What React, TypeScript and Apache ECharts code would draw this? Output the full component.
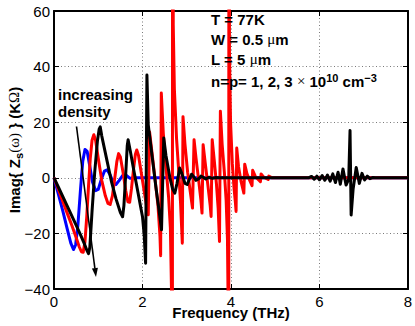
import React, { useEffect, useRef } from "react";
import * as echarts from "echarts";

// ---- data ----
const xTicks = [0, 2, 4, 6, 8];
const yTicks = [-40, -20, 0, 20, 40, 60];

const blueData: [number, number][] = [
  [0, 0], [0.1, -6], [0.2, -12], [0.3, -18.5], [0.38, -23.5], [0.44, -25.8], [0.49, -24],
  [0.54, -17], [0.6, -4], [0.65, 6], [0.7, 10.2], [0.75, 9.5], [0.8, 5], [0.87, -1.5],
  [0.94, -4.6], [1.0, -4.2], [1.07, -0.5], [1.14, 2.4], [1.2, 2.9], [1.27, 1], [1.34, -1.8],
  [1.4, -2.4], [1.47, -1], [1.55, 0.8], [1.63, 0.9], [1.72, -0.2], [1.85, 0], [8, 0],
];

const redData: [number, number][] = [
  [0, 0], [0.1, -4.2], [0.2, -8.5], [0.3, -12.8], [0.4, -17], [0.5, -21.5], [0.57, -24.8],
  [0.62, -26.6], [0.66, -26.8], [0.7, -23], [0.74, -14], [0.78, -3], [0.82, 7], [0.86, 13.5],
  [0.9, 15.5], [0.94, 13.5], [1.0, 7], [1.08, -1], [1.16, -6.5], [1.22, -9.2], [1.27, -9.6],
  [1.32, -6.5], [1.37, -0.5], [1.42, 5.8], [1.46, 8.7], [1.5, 7.5], [1.56, 2], [1.62, -4.5],
  [1.67, -8.6], [1.71, -8.8], [1.75, -4], [1.8, 3.5], [1.84, 8.5], [1.87, 10], [1.91, 8],
  [1.98, 1], [2.05, -6], [2.1, -11], [2.13, -13.3], [2.16, 16.5], [2.2, 11], [2.28, 0],
  [2.35, -10], [2.395, -21], [2.41, -28], [2.425, 30.5], [2.47, 16], [2.53, 4], [2.59, -7],
  [2.63, -18], [2.655, -40], [2.672, -300], [2.682, 300], [2.695, 55], [2.72, 32], [2.77, 14],
  [2.82, 2], [2.86, -9], [2.885, -18], [2.9, -23.5], [2.915, 22], [2.96, 12], [3.02, 2],
  [3.08, -5], [3.13, -10.9], [3.165, 13.7], [3.21, 7], [3.27, -1], [3.32, -8], [3.345, -12.7],
  [3.37, 11.9], [3.42, 5], [3.48, -3], [3.53, -10], [3.55, -13.9], [3.575, 13.7], [3.62, 6.5],
  [3.67, -2], [3.71, -11], [3.74, -22.9], [3.76, 23.9], [3.8, 12], [3.85, 2], [3.89, -8],
  [3.92, -22], [3.935, -45], [3.945, -300], [3.955, 300], [3.965, 45], [3.99, 20], [4.03, 5],
  [4.07, -4], [4.1, -9], [4.115, -12.1], [4.13, 10.7], [4.17, 4], [4.23, -1.5], [4.29, -5.5],
  [4.31, 4.9], [4.36, 1.5], [4.43, -1.2], [4.475, -2.8], [4.49, 2.7], [4.55, 0.5], [4.62, -0.7],
  [4.665, -1.4], [4.68, 1.4], [4.74, 0.2], [4.84, -0.6], [4.855, 0.6], [4.93, 0], [8, 0],
];

const blackData: [number, number][] = [
  [0, 0], [0.1, -3.4], [0.2, -6.8], [0.3, -10.2], [0.4, -13.6], [0.5, -17], [0.6, -20.5],
  [0.68, -23.5], [0.74, -26], [0.78, -27.3], [0.81, -25], [0.86, -12], [0.92, 2], [0.98, 13],
  [1.02, 17.5], [1.045, 18.3], [1.08, 15], [1.2, 6], [1.3, -1.5], [1.4, -7.5], [1.5, -12.5],
  [1.55, -14], [1.58, -10], [1.62, 1], [1.655, 11.5], [1.675, 13.7], [1.72, 10], [1.8, 3],
  [1.9, -5.5], [1.97, -11.5], [2.0, -14], [2.04, -21], [2.07, -30.7], [2.1, 37], [2.13, 19],
  [2.2, 10], [2.3, -3], [2.38, -12.5], [2.43, -18.7], [2.48, 14.3], [2.53, 8], [2.62, 0],
  [2.68, -4], [2.73, -5.5], [2.78, -2], [2.84, 3.5], [2.89, 1.5], [2.96, -2], [3.01, -2.4],
  [3.06, -0.5], [3.11, 1.3], [3.16, 0.3], [3.21, -0.9], [3.27, -0.3], [3.32, 0.6], [3.38, 0.1],
  [3.43, -0.4], [3.5, 0.2], [3.58, -0.2], [3.66, 0.1], [3.75, 0], [5.75, 0], [5.82, 0.5],
  [5.88, -0.5], [5.94, 0.6], [6.0, -0.7], [6.06, 0.8], [6.12, -0.9], [6.18, 1.0], [6.24, -1.2],
  [6.3, 1.4], [6.36, -1.7], [6.42, 2.0], [6.47, -2.3], [6.53, 3.2], [6.6, -2.6], [6.66, -0.5],
  [6.69, 17], [6.715, -13.4], [6.76, -4], [6.83, 3.7], [6.9, -2], [6.96, 1.6], [7.02, -0.8],
  [7.08, 0.6], [7.14, -0.3], [7.2, 0.1], [7.26, 0], [8, 0],
];

const seriesNames = ["n=p=1e10", "n=p=2e10", "n=p=3e10"];
const seriesColors = ["#0000ff", "#ff0000", "#000000"];

const FONT = "'Liberation Sans', Arial, Helvetica, sans-serif";
const SERIF = "'Liberation Serif', 'DejaVu Serif', serif";

export default function App() {
  const ref = useRef<HTMLDivElement>(null);

  useEffect(() => {
    document.body.style.margin = "0";
    const chart = echarts.init(ref.current!, null, { renderer: "svg" });

    const boldBase = { fontFamily: FONT, fontWeight: "bold", fontSize: 15, color: "#000" };
    const rich = {
      b: { ...boldBase, lineHeight: 17 },
      w: { fontFamily: SERIF, fontWeight: "normal", fontSize: 15, color: "#000", lineHeight: 17 },
      sub: { ...boldBase, fontSize: 11, lineHeight: 20, verticalAlign: "bottom" },
      sup: { ...boldBase, fontSize: 11, lineHeight: 11, verticalAlign: "top" },
    };

    const tickFmt = (v: number) => String(v).replace("-", "\u2212");

    const axisCommon = {
      type: "value",
      axisLine: { show: true, onZero: false, lineStyle: { color: "#000", width: 2 } },
      axisTick: { show: true, inside: true, length: 5, lineStyle: { color: "#000", width: 1 } },
    };

    const textEl = (x: number, y: number, text: string) => ({
      type: "text",
      x,
      y,
      z: 100,
      style: {
        text,
        rich,
        fill: "#000",
        font: `bold 15px ${FONT}`,
        verticalAlign: "middle",
        align: "left",
      },
    });

    const dataSets = [blueData, redData, blackData];

    chart.setOption({
      animation: false,
      backgroundColor: "#fff",
      grid: { left: 54, right: 7, top: 11, bottom: 37, outerBoundsMode: "none", containLabel: false },
      xAxis: [
        {
          ...axisCommon,
          min: xTicks[0],
          max: xTicks[xTicks.length - 1],
          interval: 2,
          position: "bottom",
          axisLabel: { color: "#000", fontSize: 15, fontFamily: FONT, margin: 5, formatter: tickFmt },
          splitLine: { show: true, lineStyle: { color: "#7a7a7a", width: 1, type: [1, 2.5] } },
          name: "Frequency (THz)",
          nameLocation: "middle",
          nameGap: 16,
          nameMoveOverlap: false,
          nameTextStyle: { ...boldBase },
        },
        {
          ...axisCommon,
          min: xTicks[0],
          max: xTicks[xTicks.length - 1],
          interval: 2,
          position: "top",
          axisLabel: { show: false },
          splitLine: { show: false },
        },
      ],
      yAxis: [
        {
          ...axisCommon,
          min: yTicks[0],
          max: yTicks[yTicks.length - 1],
          interval: 20,
          position: "left",
          axisLabel: { color: "#000", fontSize: 15, fontFamily: FONT, margin: 4, formatter: tickFmt },
          splitLine: { show: true, lineStyle: { color: "#7a7a7a", width: 1, type: [1, 2.5] } },
          name: "Imag{ {b|Z}{sub|s}{w|(\u03c9)} } (K{w|\u03a9})",
          nameLocation: "middle",
          nameGap: 30,
          nameMoveOverlap: false,
          nameTextStyle: { ...boldBase, lineHeight: 20, rich },
        },
        {
          ...axisCommon,
          min: yTicks[0],
          max: yTicks[yTicks.length - 1],
          interval: 20,
          position: "right",
          axisLabel: { show: false },
          splitLine: { show: false },
        },
      ],
      series: dataSets.map((d, i) => ({
        name: seriesNames[i],
        type: "line",
        data: d,
        xAxisIndex: 0,
        yAxisIndex: 0,
        showSymbol: false,
        symbol: "none",
        clip: true,
        z: 2 + i,
        lineStyle: { color: seriesColors[i], width: 3, join: "round" },
      })),
      graphic: [
        textEl(211, 19, "{b|T = 77K}"),
        textEl(211, 39, "{b|W = 0.5 }{w|\u03bc}{b|m}"),
        textEl(211, 59, "{b|L = 5 }{w|\u03bc}{b|m}"),
        textEl(211, 81, "{b|n=p= 1, 2, 3 }{w|\u00d7}{b| 10}{sup|10}{b| cm}{sup|\u22123}"),
        textEl(58, 94, "{b|increasing}"),
        textEl(58, 111, "{b|density}"),
        {
          type: "line",
          z: 100,
          shape: { x1: 76.5, y1: 126.5, x2: 94.9, y2: 268.5 },
          style: { stroke: "#000", lineWidth: 1.6 },
        },
        {
          type: "polygon",
          z: 100,
          shape: { points: [[96, 277], [97.9, 267.7], [91.9, 268.5]] },
          style: { fill: "#000" },
        },
      ],
    });

    return () => chart.dispose();
  }, []);

  return <div ref={ref} style={{ width: 415, height: 326 }} />;
}
